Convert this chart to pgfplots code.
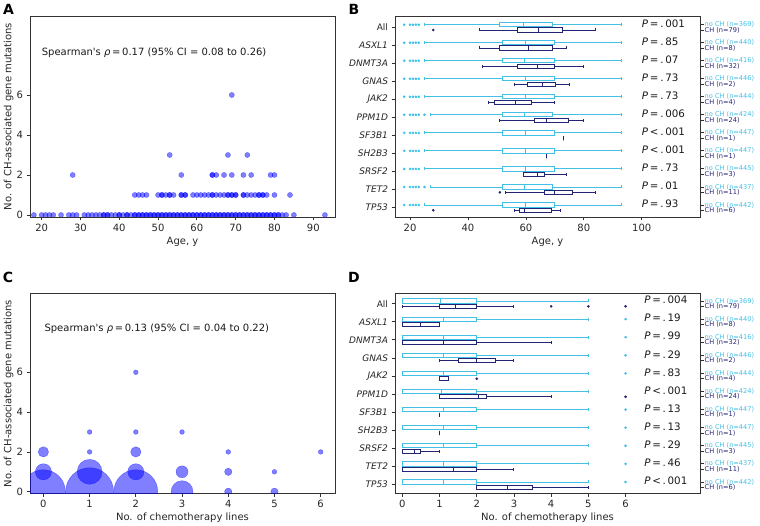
\documentclass[border=0pt]{standalone}
\usepackage{pgfplots}
\pgfplotsset{compat=1.18}
\usepgfplotslibrary{statistics}
\usepackage{fontspec}
\setmainfont{DejaVu Sans}
\definecolor{lightc}{RGB}{66,192,230}
\definecolor{darkc}{RGB}{36,36,118}
\definecolor{ptc}{RGB}{0,0,255}
\pgfplotsset{
  base/.style={scale only axis, anchor=south west,
    axis line style={black!80, line width=0.8pt},
    tick align=outside, tick pos=left, major tick length=3.5pt,
    tick style={black!80, line width=0.8pt},
    ticklabel style={font=\fontsize{10}{12}\selectfont, text=black!85},
    /pgf/number format/assume math mode=true,
    every axis x label/.style={at={(axis description cs:0.5,-0.122)}, anchor=center, font=\fontsize{10}{12}\selectfont, text=black!85},
    every axis y label/.style={at={(axis description cs:-0.070,0.5)}, rotate=90, anchor=center, font=\fontsize{10}{12}\selectfont, text=black!85},
    clip marker paths=true},
  rlab/.style={scale only axis, anchor=south west, xmin=0, xmax=1,
    hide x axis, axis y line*=right,
    y axis line style={black!80, line width=0.8pt},
    tick align=outside, major tick length=3.5pt,
    tick style={black!80, line width=0.8pt},
    yticklabel style={font=\fontsize{6.6}{6.6}\selectfont, inner sep=1pt}},
  pts/.style={only marks, mark=*, mark size=2.6pt, mark options={fill=ptc, draw=ptc, fill opacity=0.5, draw opacity=0.5, line width=0.3pt}},
}
\newcommand{\bx}[7]{\addplot[#1, line width=0.9pt, solid, boxplot prepared={draw direction=x, draw position=#2, lower whisker=#3, lower quartile=#4, median=#5, upper quartile=#6, upper whisker=#7, box extend=4.2, whisker extend=3}] coordinates {};}
\newcommand{\fl}[2]{\addplot[only marks, mark=*, mark size=1.1pt, #1, mark options={fill=#1, draw=#1}] coordinates {#2};}
\newcommand{\flB}[1]{\fl{lightc}{(18,#1)(20,#1)(21,#1)(22,#1)(23,#1)}}
\newcommand{\pv}[3]{\node[anchor=west, inner sep=0pt, font=\fontsize{10.3}{11}\selectfont, text=black!90] at (axis cs:#1,#2) {#3};}
\newcommand{\Peq}[1]{\textit{P}\,=\,.\,#1}
\newcommand{\Plt}[1]{\textit{P}\,<\,.\,#1}
\newcommand{\nc}[1]{\textcolor{lightc}{no CH (n=#1)}}
\newcommand{\ch}[1]{\textcolor{darkc}{CH (n=#1)}}
\begin{document}
\begin{tikzpicture}
\useasboundingbox (0,0) rectangle (760pt,526pt);
\node[font=\fontsize{14}{14}\selectfont\bfseries] at (8.5pt,517pt) {A};
\node[font=\fontsize{14}{14}\selectfont\bfseries] at (354pt,517pt) {B};
\node[font=\fontsize{14}{14}\selectfont\bfseries] at (8pt,249pt) {C};
\node[font=\fontsize{14}{14}\selectfont\bfseries] at (354pt,249pt) {D};

% ---------------- A
\begin{axis}[base, at={(30pt,309pt)}, width=305pt, height=201pt,
  xmin=17, xmax=95.6, ymin=-0.1, ymax=9.95,
  xtick={20,30,...,90}, ytick={0,2,4,6},
  xlabel={Age, y}, ylabel={No. of CH-associated gene mutations}]
\addplot[pts] coordinates {(18,0)(20,0)(21,0)(22,0)(23,0)(25,0)(27,0)(28,0)(29,0)(31,0)(32,0)(33,0)(34,0)(35,0)(36,0)(36,0)(37,0)(37,0)(38,0)(39,0)(40,0)(40,0)(41,0)(42,0)(42,0)(43,0)
(44,0)(44,0)(45,0)(45,0)(46,0)(46,0)(47,0)(47,0)(48,0)(48,0)(49,0)(49,0)(50,0)(50,0)(51,0)(51,0)(52,0)(52,0)(53,0)(53,0)(54,0)(54,0)(55,0)(55,0)(56,0)(56,0)(57,0)(57,0)(58,0)(58,0)(59,0)(59,0)(60,0)(60,0)(61,0)(61,0)(62,0)(62,0)(63,0)(63,0)(64,0)(64,0)(65,0)(65,0)(66,0)(66,0)(67,0)(67,0)(68,0)(68,0)(69,0)(69,0)(70,0)(70,0)(71,0)(71,0)(72,0)(72,0)(73,0)(73,0)(74,0)(74,0)(75,0)(75,0)(76,0)(76,0)(77,0)(77,0)(78,0)(78,0)(79,0)(79,0)(80,0)(80,0)(81,0)(81,0)(82,0)(83,0)(85,0)(93,0)};
\addplot[pts] coordinates {(44,1)(45,1)(46,1)(47,1)(50,1)(51,1)(51,1)(52,1)(53,1)(53,1)(54,1)(56,1)(56,1)(57,1)(57,1)(59,1)(60,1)(61,1)(62,1)(63,1)(64,1)(64,1)(65,1)(66,1)(67,1)(68,1)(68,1)(69,1)(69,1)(70,1)(70,1)(72,1)(72,1)(73,1)(74,1)(75,1)(76,1)(76,1)(77,1)(77,1)(78,1)(80,1)(84,1)};
\addplot[pts] coordinates {(28,2)(56,2)(64,2)(64,2)(65,2)(67,2)(69,2)(72,2)(74,2)(79,2)(80,2)};
\addplot[pts] coordinates {(53,3)(68,3)(73,3)(69,6)};
\node[anchor=west, inner sep=0pt, font=\fontsize{10}{12}\selectfont, text=black!90] at (axis cs:20,8.1) {Spearman\textquotesingle s \textit{ρ}\,=\,0.17 (95\% CI = 0.08 to 0.26)};
\end{axis}

% ---------------- B
\begin{axis}[base, at={(395pt,309pt)}, width=305pt, height=201pt,
  xmin=14.8, xmax=120.1, ymin=0, ymax=201,
  xtick={20,40,60,80,100}, xlabel={Age, y},
  ytick={9.35,27.38,45.41,63.44,81.47,99.5,117.53,135.56,153.59,171.62,189.65},
  yticklabels={\textit{TP53},\textit{TET2},\textit{SRSF2},\textit{SH2B3},\textit{SF3B1},\textit{PPM1D},\textit{JAK2},\textit{GNAS},\textit{DNMT3A},\textit{ASXL1},All},
  yticklabel style={font=\fontsize{9}{10}\selectfont}]
% no CH
\bx{lightc}{192.3}{25}{51}{59}{69}{93}
\bx{lightc}{174.3}{25}{52}{60}{70}{93}
\bx{lightc}{156.2}{25}{52}{59.5}{70}{93}
\bx{lightc}{138.2}{25}{52}{60}{70}{93}
\bx{lightc}{120.2}{25}{52}{60}{70}{93}
\bx{lightc}{102.2}{27}{52}{59.5}{69}{93}
\bx{lightc}{84.1}{25}{52}{60}{70}{93}
\bx{lightc}{66.1}{25}{52}{60}{70}{93}
\bx{lightc}{48.1}{25}{52}{60}{70}{93}
\bx{lightc}{30.0}{27}{52}{59.5}{69}{93}
\bx{lightc}{12.0}{25}{52}{60}{70}{93}
\flB{192.3}\flB{174.3}\flB{156.2}\flB{138.2}\flB{120.2}\flB{102.2}\flB{84.1}\flB{66.1}\flB{48.1}\flB{30.0}\flB{12.0}
\fl{lightc}{(25,102.2)(25,30.0)}
% CH
\bx{darkc}{187.0}{44}{57}{64.2}{72.6}{84}
\bx{darkc}{169.0}{44}{51}{61}{69.3}{74}
\bx{darkc}{150.9}{45}{57}{64}{69.8}{80}
\bx{darkc}{132.9}{56}{60.6}{65.6}{70.3}{75}
\bx{darkc}{114.9}{47}{49.1}{56.4}{61.9}{70}
\bx{darkc}{96.9}{51}{63}{67.2}{74.6}{80}
\bx{darkc}{78.8}{73}{73}{73}{73}{73}
\bx{darkc}{60.8}{67}{67}{67}{67}{67}
\bx{darkc}{42.8}{59}{59}{64}{66.5}{74}
\bx{darkc}{24.7}{53}{66.4}{69.7}{76}{84}
\bx{darkc}{6.7}{56}{57.9}{59.4}{68.8}{72}
\fl{darkc}{(28,187.0)(51,24.7)(28,6.7)}
\pv{100}{193.3}{\Peq{001}}
\pv{100}{175.3}{\Peq{85}}
\pv{100}{157.2}{\Peq{07}}
\pv{100}{139.2}{\Peq{73}}
\pv{100}{121.2}{\Peq{73}}
\pv{100}{103.2}{\Peq{006}}
\pv{100}{85.1}{\Plt{001}}
\pv{100}{67.1}{\Plt{001}}
\pv{100}{49.1}{\Peq{73}}
\pv{100}{31.0}{\Peq{01}}
\pv{100}{13.0}{\Peq{93}}
\end{axis}
\begin{axis}[rlab, at={(395pt,309pt)}, width=305pt, height=201pt, ymin=0, ymax=201,
  ytick={6.7,12.0,24.7,30.0,42.8,48.1,60.8,66.1,78.8,84.1,96.9,102.2,114.9,120.2,132.9,138.2,150.9,156.2,169.0,174.3,187.0,192.3},
  yticklabels={\ch{6},\nc{442},\ch{11},\nc{437},\ch{3},\nc{445},\ch{1},\nc{447},\ch{1},\nc{447},\ch{24},\nc{424},\ch{4},\nc{444},\ch{2},\nc{446},\ch{32},\nc{416},\ch{8},\nc{440},\ch{79},\nc{369}}]
\end{axis}

% ---------------- C
\begin{axis}[base, at={(30pt,32.5pt)}, width=305pt, height=200pt,
  xmin=-0.29, xmax=6.31, ymin=-0.09, ymax=9.96,
  xtick={0,1,...,6}, ytick={0,2,4,6},
  xlabel={No. of chemotherapy lines}, ylabel={No. of CH-associated gene mutations}]
\addplot[pts, mark size=22pt] coordinates {(0,0)(2,0)};
\addplot[pts, mark size=24pt] coordinates {(1,0)};
\addplot[pts, mark size=12.5pt] coordinates {(1,1)};
\addplot[pts, mark size=11pt] coordinates {(3,0)};
\addplot[pts, mark size=8.1pt] coordinates {(0,1)(2,1)};
\addplot[pts, mark size=6pt] coordinates {(3,1)};
\addplot[pts, mark size=5.2pt] coordinates {(0,2)(2,2)};
\addplot[pts, mark size=3.7pt] coordinates {(4,0)(4,1)(5,0)};
\addplot[pts, mark size=2.4pt] coordinates {(1,2)(1,3)(2,3)(2,6)(3,3)(4,2)(5,1)(6,2)};
\node[anchor=west, inner sep=0pt, font=\fontsize{10}{12}\selectfont, text=black!90] at (axis cs:0.02,8.2) {Spearman\textquotesingle s \textit{ρ}\,=\,0.13 (95\% CI = 0.04 to 0.22)};
\end{axis}

% ---------------- D
\begin{axis}[base, at={(395pt,32.5pt)}, width=305pt, height=200pt,
  xmin=-0.196, xmax=8.0, ymin=0, ymax=200,
  xtick={0,1,...,6}, xlabel={No. of chemotherapy lines},
  ytick={8.85,26.95,45.05,63.15,81.25,99.35,117.45,135.55,153.65,171.75,189.85},
  yticklabels={\textit{TP53},\textit{TET2},\textit{SRSF2},\textit{SH2B3},\textit{SF3B1},\textit{PPM1D},\textit{JAK2},\textit{GNAS},\textit{DNMT3A},\textit{ASXL1},All},
  yticklabel style={font=\fontsize{9}{10}\selectfont}]
\bx{lightc}{192.5}{0}{0}{1.02}{2}{5}
\bx{lightc}{174.4}{0}{0}{1.1}{2}{5}
\bx{lightc}{156.3}{0}{0}{1.1}{2}{5}
\bx{lightc}{138.2}{0}{0}{1.1}{2}{5}
\bx{lightc}{120.1}{0}{0}{1.1}{2}{5}
\bx{lightc}{102.0}{0}{0}{1.05}{2}{5}
\bx{lightc}{83.9}{0}{0}{1.1}{2}{5}
\bx{lightc}{65.8}{0}{0}{1.1}{2}{5}
\bx{lightc}{47.7}{0}{0}{1.1}{2}{5}
\bx{lightc}{29.6}{0}{0}{1.1}{2}{5}
\bx{lightc}{11.5}{0}{0}{1.1}{2}{5}
\fl{lightc}{(6,174.4)(6,156.3)(6,138.2)(6,120.1)(6,83.9)(6,65.8)(6,47.7)(6,29.6)(6,11.5)}
\bx{darkc}{187.2}{0}{1}{1.44}{2}{3}
\bx{darkc}{169.1}{0}{0}{0.5}{1}{1}
\bx{darkc}{151.0}{0}{0}{1.1}{2}{4}
\bx{darkc}{132.9}{1}{1.5}{2}{2.5}{3}
\bx{darkc}{114.8}{1}{1}{1}{1.25}{1.25}
\bx{darkc}{96.7}{1}{1}{2.04}{2.25}{4}
\bx{darkc}{78.6}{1}{1}{1}{1}{1}
\bx{darkc}{60.5}{1}{1}{1}{1}{1}
\bx{darkc}{42.4}{0}{0}{0.33}{0.5}{1}
\bx{darkc}{24.3}{0}{0}{1.37}{2}{3}
\bx{darkc}{6.2}{2}{2}{2.83}{3.5}{5}
\fl{darkc}{(4,187.2)(5,187.2)(6,187.2)(2,114.8)(6,96.7)}
\pv{6.5}{193.5}{\Peq{004}}
\pv{6.5}{175.4}{\Peq{19}}
\pv{6.5}{157.3}{\Peq{99}}
\pv{6.5}{139.2}{\Peq{29}}
\pv{6.5}{121.1}{\Peq{83}}
\pv{6.5}{103.0}{\Plt{001}}
\pv{6.5}{84.9}{\Peq{13}}
\pv{6.5}{66.8}{\Peq{13}}
\pv{6.5}{48.7}{\Peq{29}}
\pv{6.5}{30.6}{\Peq{46}}
\pv{6.5}{12.5}{\Plt{001}}
\end{axis}
\begin{axis}[rlab, at={(395pt,32.5pt)}, width=305pt, height=200pt, ymin=0, ymax=200,
  ytick={6.2,11.5,24.3,29.6,42.4,47.7,60.5,65.8,78.6,83.9,96.7,102.0,114.8,120.1,132.9,138.2,151.0,156.3,169.1,174.4,187.2,192.5},
  yticklabels={\ch{6},\nc{442},\ch{11},\nc{437},\ch{3},\nc{445},\ch{1},\nc{447},\ch{1},\nc{447},\ch{24},\nc{424},\ch{4},\nc{444},\ch{2},\nc{446},\ch{32},\nc{416},\ch{8},\nc{440},\ch{79},\nc{369}}]
\end{axis}
\end{tikzpicture}
\end{document}
